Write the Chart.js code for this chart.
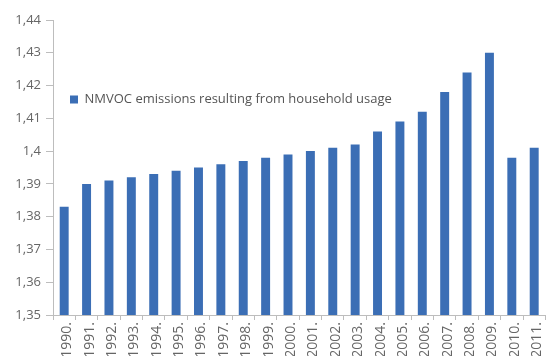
<!DOCTYPE html>
<html>
<head>
<meta charset="utf-8">
<script src="https://cdn.jsdelivr.net/npm/chart.js@4.4.1/dist/chart.umd.min.js"></script>
<style>
  html, body { margin: 0; padding: 0; background: #fff; overflow: hidden; width: 547px; height: 356px; }
  #wrap { position: absolute; left: 0; top: 0; }
</style>
</head>
<body>
<div id="wrap"><canvas id="c" width="553" height="356"></canvas></div>
<script>
const categories = ['1990.', '1991.', '1992.', '1993.', '1994.', '1995.', '1996.', '1997.', '1998.', '1999.', '2000.',
  '2001.', '2002.', '2003.', '2004.', '2005.', '2006.', '2007.', '2008.', '2009.', '2010.', '2011.'];
const seriesName = 'NMVOC emissions resulting from household usage';
const emissions = [1.383, 1.390, 1.391, 1.392, 1.393, 1.394, 1.395, 1.396, 1.397, 1.398, 1.399,
  1.400, 1.401, 1.402, 1.406, 1.409, 1.412, 1.418, 1.424, 1.430, 1.398, 1.401];
const yMin = 1.35, yMax = 1.44, yStep = 0.01;

const textColor = '#666';
const axisColor = '#bdbdbd';
const barColor = '#3b6eb5';
const fontFamily = '"Open Sans", "DejaVu Sans", sans-serif';

const moveLegend = {
  id: 'moveLegend',
  beforeDraw(chart) {
    const lg = chart.legend;
    if (!lg) return;
    const w = lg.width, h = lg.height;
    lg.left = 60; lg.top = 83;
    lg.right = lg.left + w; lg.bottom = lg.top + h;
  }
};

new Chart(document.getElementById('c'), {
  type: 'bar',
  data: {
    labels: categories,
    datasets: [{
      label: seriesName,
      data: emissions,
      backgroundColor: barColor,
      borderWidth: 0,
      categoryPercentage: 0.8,
      barPercentage: 0.5
    }]
  },
  options: {
    responsive: false,
    animation: false,
    devicePixelRatio: 1,
    layout: { padding: { top: 20, right: 0, left: 0, bottom: 0 } },
    plugins: {
      legend: {
        position: 'chartArea',
        align: 'start',
        labels: {
          boxWidth: 8, boxHeight: 8, padding: 10,
          color: '#555',
          font: { family: fontFamily, size: 13 }
        }
      },
      tooltip: { enabled: false },
      title: { display: false }
    },
    scales: {
      x: {
        offset: true,
        grid: { offset: true, drawOnChartArea: false, drawTicks: true, tickLength: 5, color: axisColor },
        border: { display: true, color: axisColor },
        ticks: {
          color: textColor, minRotation: 90, maxRotation: 90, autoSkip: false, padding: 2,
          labelOffset: 3,
          font: { family: fontFamily, size: 14 }
        },
        afterFit(s) { s.height = 41; }
      },
      y: {
        min: yMin, max: yMax,
        grid: { drawOnChartArea: false, drawTicks: true, tickLength: 7, color: axisColor },
        border: { display: true, color: axisColor },
        ticks: {
          stepSize: yStep, color: textColor, padding: 5,
          font: { family: fontFamily, size: 13 },
          callback: v => String(Number(v.toFixed(2))).replace('.', ',')
        },
        afterFit(s) { s.width = 53; }
      }
    }
  },
  plugins: [moveLegend]
});
</script>
</body>
</html>
